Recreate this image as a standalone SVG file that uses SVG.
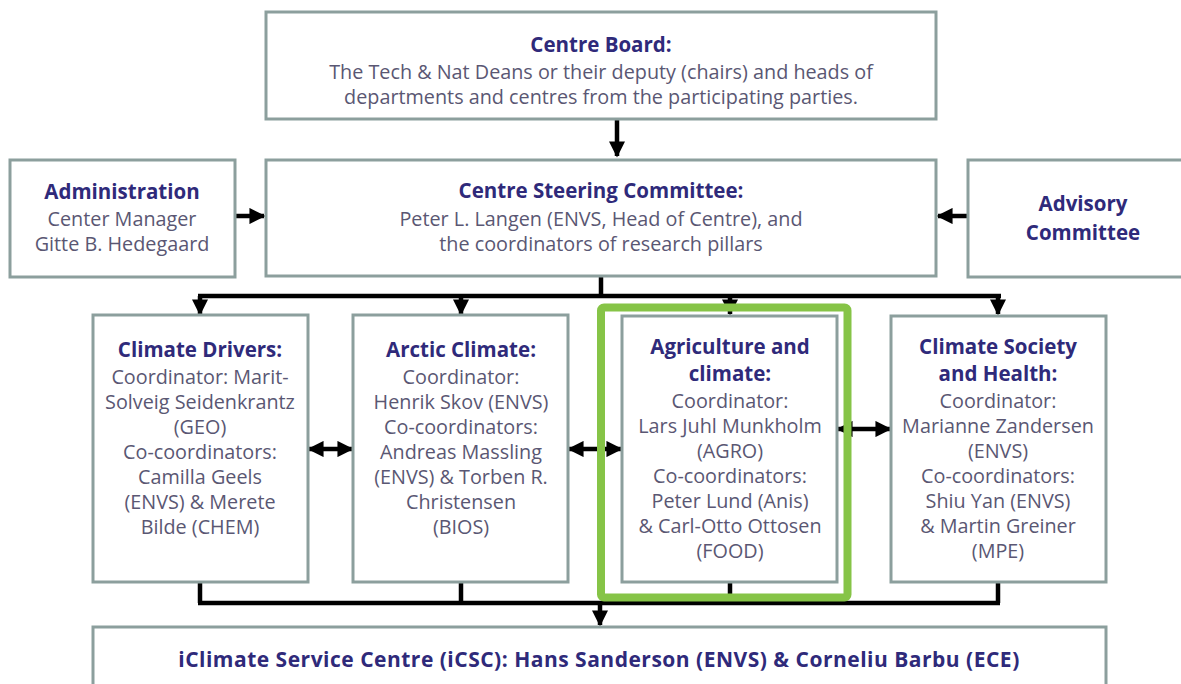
<svg xmlns="http://www.w3.org/2000/svg" width="1181" height="684" viewBox="0 0 1181 684">
  <defs>
    <style>
      .box { fill: #ffffff; stroke: #8c9f9d; stroke-width: 3; }
      .wire { fill: none; stroke: #000000; stroke-width: 4.5; }
      .title { font-family: "Open Sans", "Liberation Sans", sans-serif; font-weight: 700; font-size: 20.5px; fill: #2f2a7a; text-anchor: middle; }
      .body { font-family: "Open Sans", "Liberation Sans", sans-serif; font-size: 19.8px; fill: #5a5773; text-anchor: middle; }
      .wide { font-size: 21px; letter-spacing: 0.5px; }
      .focus { fill: none; stroke: #86c447; stroke-width: 8; }
    </style>
    <marker id="head" viewBox="0 0 10 10" refX="9" refY="5" markerWidth="3.6" markerHeight="3.6" orient="auto-start-reverse" markerUnits="strokeWidth">
      <path d="M0,0 L10,5 L0,10 Z" fill="#000000"/>
    </marker>
  </defs>

  <rect width="1181" height="684" fill="#ffffff"/>

  <!-- connectors -->
  <g id="connectors">
    <path class="wire" d="M617,120 V156" marker-end="url(#head)"/>
    <path class="wire" d="M236,216 H264" marker-end="url(#head)"/>
    <path class="wire" d="M967,216 H938" marker-end="url(#head)"/>
    <!-- steering committee to pillars -->
    <path class="wire" d="M601,276 V296"/>
    <path class="wire" d="M198,296 H1001"/>
    <path class="wire" d="M200,296 V314" marker-end="url(#head)"/>
    <path class="wire" d="M461,296 V314" marker-end="url(#head)"/>
    <path class="wire" d="M730,296 V314" marker-end="url(#head)"/>
    <path class="wire" d="M998,296 V314" marker-end="url(#head)"/>
    <!-- between pillars -->
    <path class="wire" d="M309,449 H352" marker-start="url(#head)" marker-end="url(#head)"/>
    <path class="wire" d="M569,449 H621" marker-start="url(#head)" marker-end="url(#head)"/>
    <path class="wire" d="M838,429 H890" marker-start="url(#head)" marker-end="url(#head)"/>
    <!-- pillars to service centre -->
    <path class="wire" d="M200,583 V603"/>
    <path class="wire" d="M461,583 V603"/>
    <path class="wire" d="M730,583 V603"/>
    <path class="wire" d="M998,583 V603"/>
    <path class="wire" d="M198,603 H1000"/>
    <path class="wire" d="M600,603 V625" marker-end="url(#head)"/>
  </g>

  <g id="centre-board">
    <rect class="box" x="266" y="12" width="670" height="107"/>
    <text class="title" x="601" y="52">Centre Board:</text>
    <text class="body" x="601" y="79">The Tech &amp; Nat Deans or their deputy (chairs) and heads of</text>
    <text class="body" x="601" y="104">departments and centres from the participating parties.</text>
  </g>

  <g id="administration">
    <rect class="box" x="10" y="160" width="225" height="117"/>
    <text class="title" x="122" y="199">Administration</text>
    <text class="body" x="122" y="226">Center Manager</text>
    <text class="body" x="122" y="251">Gitte B. Hedegaard</text>
  </g>

  <g id="steering-committee">
    <rect class="box" x="266" y="160" width="670" height="116"/>
    <text class="title" x="601" y="198">Centre Steering Committee:</text>
    <text class="body" x="601" y="226">Peter L. Langen (ENVS, Head of Centre), and</text>
    <text class="body" x="601" y="251">the coordinators of research pillars</text>
  </g>

  <g id="advisory-committee">
    <rect class="box" x="968" y="160" width="220" height="117"/>
    <text class="title" x="1083" y="211">Advisory</text>
    <text class="title" x="1083" y="240">Committee</text>
  </g>

  <g id="climate-drivers">
    <rect class="box" x="93" y="315" width="215" height="267"/>
    <text class="title" x="200" y="357">Climate Drivers:</text>
    <text class="body" x="200" y="384">Coordinator: Marit-</text>
    <text class="body" x="200" y="409">Solveig Seidenkrantz</text>
    <text class="body" x="200" y="434">(GEO)</text>
    <text class="body" x="200" y="459">Co-coordinators:</text>
    <text class="body" x="200" y="484">Camilla Geels</text>
    <text class="body" x="200" y="509">(ENVS) &amp; Merete</text>
    <text class="body" x="200" y="534">Bilde (CHEM)</text>
  </g>

  <g id="arctic-climate">
    <rect class="box" x="353" y="315" width="215" height="267"/>
    <text class="title" x="461" y="357">Arctic Climate:</text>
    <text class="body" x="461" y="384">Coordinator:</text>
    <text class="body" x="461" y="409">Henrik Skov (ENVS)</text>
    <text class="body" x="461" y="434">Co-coordinators:</text>
    <text class="body" x="461" y="459">Andreas Massling</text>
    <text class="body" x="461" y="484">(ENVS) &amp; Torben R.</text>
    <text class="body" x="461" y="509">Christensen</text>
    <text class="body" x="461" y="534">(BIOS)</text>
  </g>

  <g id="agriculture-climate">
    <rect class="box" x="622" y="316" width="215" height="266"/>
    <text class="title" x="730" y="354">Agriculture and</text>
    <text class="title" x="730" y="381">climate:</text>
    <text class="body" x="730" y="408">Coordinator:</text>
    <text class="body" x="730" y="433">Lars Juhl Munkholm</text>
    <text class="body" x="730" y="458">(AGRO)</text>
    <text class="body" x="730" y="483">Co-coordinators:</text>
    <text class="body" x="730" y="508">Peter Lund (Anis)</text>
    <text class="body" x="730" y="533">&amp; Carl-Otto Ottosen</text>
    <text class="body" x="730" y="558">(FOOD)</text>
  </g>

  <g id="climate-society-health">
    <rect class="box" x="891" y="316" width="215" height="266"/>
    <text class="title" x="998" y="354">Climate Society</text>
    <text class="title" x="998" y="381">and Health:</text>
    <text class="body" x="998" y="408">Coordinator:</text>
    <text class="body" x="998" y="433">Marianne Zandersen</text>
    <text class="body" x="998" y="458">(ENVS)</text>
    <text class="body" x="998" y="483">Co-coordinators:</text>
    <text class="body" x="998" y="508">Shiu Yan (ENVS)</text>
    <text class="body" x="998" y="533">&amp; Martin Greiner</text>
    <text class="body" x="998" y="558">(MPE)</text>
  </g>

  <!-- highlight frame around the agriculture pillar -->
  <g id="highlight">
    <rect class="focus" x="601" y="307.5" width="246.5" height="290" rx="3"/>
  </g>

  <g id="service-centre">
    <rect class="box" x="93" y="627" width="1013" height="70"/>
    <text class="title wide" x="599" y="667">iClimate Service Centre (iCSC): Hans Sanderson (ENVS) &amp; Corneliu Barbu (ECE)</text>
  </g>
</svg>
